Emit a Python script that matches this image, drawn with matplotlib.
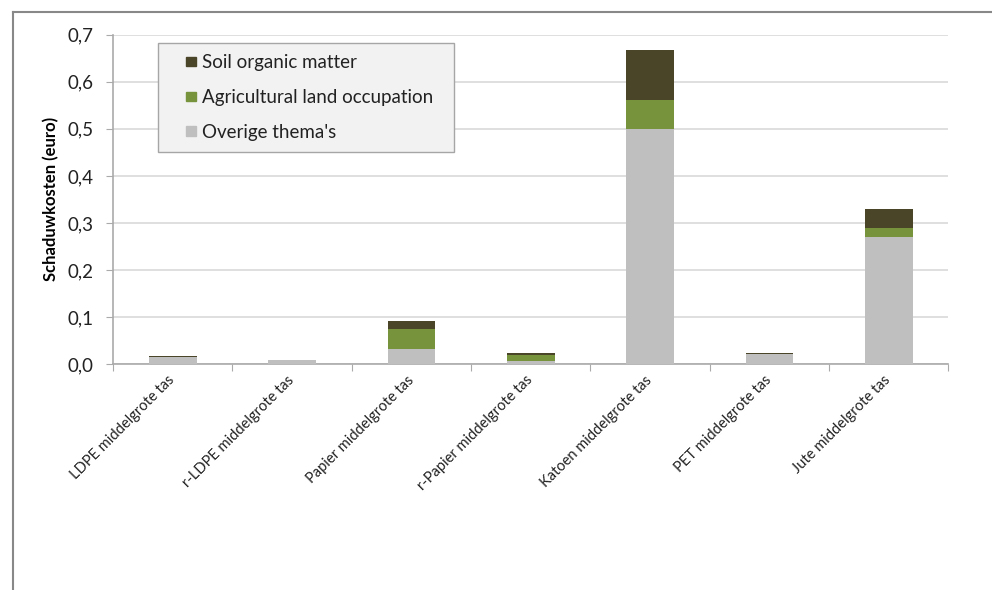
"""Schaduwkosten per draagtas, gestapeld"""
import numpy as np
from matplotlib import pyplot as plt
from matplotlib.lines import Line2D
from matplotlib.patches import Patch, Rectangle
from matplotlib.legend_handler import HandlerPatch

plt.rcParams['font.family'] = ['Lato', 'DejaVu Sans']

categories = ["LDPE middelgrote tas", "r-LDPE middelgrote tas",
              "Papier middelgrote tas", "r-Papier middelgrote tas",
              "Katoen middelgrote tas", "PET middelgrote tas",
              "Jute middelgrote tas"]
overige = [0.015, 0.008, 0.031, 0.006, 0.500, 0.022, 0.270]
agricultural = [0.0005, 0.0003, 0.043, 0.0125, 0.062, 0.0003, 0.019]
soil = [0.0015, 0.001, 0.017, 0.0045, 0.105, 0.0017, 0.041]
y_ticks = [0.0, 0.1, 0.2, 0.3, 0.4, 0.5, 0.6, 0.7]
y_labels = ["0,0", "0,1", "0,2", "0,3", "0,4", "0,5", "0,6", "0,7"]

col_soil = '#4a4529'
col_agri = '#77933c'
col_over = '#bfbfbf'
grid_col = '#d9d9d9'
text_col = '#222222'


def square_handle(legend, orig_handle, xdescent, ydescent, width, height,
                  fontsize):
    """Small square at the right end of the handle box (Excel style)"""
    s = 0.5 * fontsize
    return Rectangle((width - s - xdescent, (height - s) / 2 - ydescent), s, s)


def main():
    """Draw the chart"""
    fig = plt.figure(figsize=(9.92, 5.90), dpi=100)
    ax = fig.add_axes([0.114, 0.383, 0.842, 0.558])

    x = np.arange(len(categories))
    width = 0.4
    ax.bar(x, overige, width, color=col_over, zorder=3)
    ax.bar(x, agricultural, width, bottom=overige, color=col_agri, zorder=3)
    bottom2 = np.array(overige) + np.array(agricultural)
    ax.bar(x, soil, width, bottom=bottom2, color=col_soil, zorder=3)

    ax.set_xlim(-0.5, len(categories) - 0.5)
    ax.set_ylim(0, 0.7)
    ax.set_yticks(y_ticks)
    ax.set_yticklabels(y_labels, fontsize=13.5, color=text_col)
    ax.yaxis.grid(True, color=grid_col, linewidth=1.2, zorder=0)
    ax.set_axisbelow(True)

    # category labels at centres, tick marks at the boundaries
    ax.set_xticks(np.arange(len(categories) + 1) - 0.5)
    ax.set_xticklabels([])
    ax.set_xticks(x, minor=True)
    ax.set_xticklabels(categories, minor=True, rotation=45, ha='right',
                       va='center', rotation_mode='anchor', fontsize=10.5,
                       color=text_col)
    ax.tick_params(axis='x', which='minor', length=0, pad=10)
    ax.tick_params(axis='x', which='major', length=5, color='#aaaaaa')
    ax.tick_params(axis='y', length=5, color='#aaaaaa', pad=9)

    for side in ['top', 'right']:
        ax.spines[side].set_visible(False)
    ax.spines['left'].set_color('#aaaaaa')
    ax.spines['bottom'].set_color('#aaaaaa')
    ax.spines['left'].set_linewidth(1.2)
    ax.spines['bottom'].set_linewidth(1.2)

    ax.set_ylabel('Schaduwkosten (euro)', fontsize=12, fontweight='bold',
                  labelpad=6)

    handles = [Patch(color=col_soil), Patch(color=col_agri),
               Patch(color=col_over)]
    labels = ['Soil organic matter  ', 'Agricultural land occupation  ',
              "Overige thema's  "]
    leg = ax.legend(handles, labels, loc='upper left',
                    bbox_to_anchor=(0.054, 0.976), fontsize=13.5,
                    fancybox=False, framealpha=1, handlelength=1.4,
                    handletextpad=0.35, labelspacing=0.95,
                    borderpad=0.6, borderaxespad=0,
                    handler_map={Patch: HandlerPatch(patch_func=square_handle)})
    leg.get_frame().set_facecolor('#f2f2f2')
    leg.get_frame().set_edgecolor('#a6a6a6')
    for txt in leg.get_texts():
        txt.set_color(text_col)

    # outer chart frame (only top and left visible)
    fig.add_artist(Line2D([13 / 992, 1.0], [1 - 12 / 590, 1 - 12 / 590],
                          transform=fig.transFigure, color='#888888',
                          linewidth=1.5))
    fig.add_artist(Line2D([13 / 992, 13 / 992], [0.0, 1 - 12 / 590],
                          transform=fig.transFigure, color='#888888',
                          linewidth=1.5))

    fig.savefig('out.png', dpi=100)


if __name__ == '__main__':
    main()
